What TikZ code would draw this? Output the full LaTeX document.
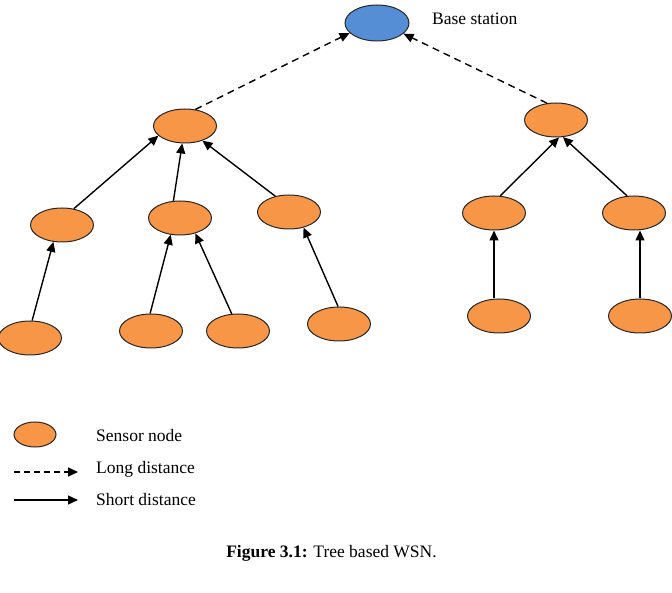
\documentclass[tikz,border=0pt]{standalone}
\usepackage{fontspec}
\setmainfont{Liberation Serif}
\usetikzlibrary{shapes.geometric,arrows.meta}

\definecolor{sensororange}{HTML}{F79646}
\definecolor{baseblue}{HTML}{558ED5}

\tikzset{
  sensor/.style={ellipse, draw=black!85, line width=1pt, fill=sensororange,
    minimum width=63pt, minimum height=34pt, inner sep=0pt},
  basenode/.style={sensor, fill=baseblue, minimum width=64pt, minimum height=36pt},
  legendnode/.style={sensor, minimum width=42pt, minimum height=25pt},
  shortlink/.style={line width=1.4pt, -{Triangle[length=10pt,width=9pt]}},
  longlink/.style={line width=1.4pt, dash pattern=on 7pt off 5pt,
    -{Triangle[length=10pt,width=9pt]}},
  label/.style={anchor=base west, inner sep=0pt,
    font=\fontsize{17.5}{20}\selectfont}
}

\begin{document}
\begin{tikzpicture}[x=1pt, y=-1pt]
  \useasboundingbox (0,0) rectangle (672,593);

  % base station
  \node[basenode] (base) at (377,23) {};
  \node[label] (basetxt) at (432,25) {Base station};

  % cluster heads
  \node[sensor] (l1a) at (185,126) {};
  \node[sensor] (l1b) at (556,120) {};

  % intermediate nodes
  \node[sensor] (l2a) at (62,225) {};
  \node[sensor] (l2b) at (180,218) {};
  \node[sensor] (l2c) at (289,212) {};
  \node[sensor] (l2d) at (494,213) {};
  \node[sensor] (l2e) at (634,213) {};

  % leaf nodes
  \node[sensor] (l3a) at (30,338) {};
  \node[sensor] (l3b) at (151,331) {};
  \node[sensor] (l3c) at (238,331) {};
  \node[sensor] (l3d) at (339,324) {};
  \node[sensor] (l3e) at (499,316) {};
  \node[sensor] (l3f) at (640,316) {};

  % long-distance links to the base station
  \draw[longlink] (l1a.58) -- (base.200);
  \draw[longlink] (l1b.118) -- (base.-22);

  % short-distance links, left tree
  \draw[shortlink] (l2a.54) -- (l1a.200);
  \draw[shortlink] (l2b.111) -- (l1a.-99);
  \draw[shortlink] (l2c.131) -- (l1a.-40);
  \draw[shortlink] (l3a.83) -- (l2a.-117);
  \draw[shortlink] (l3b.93) -- (l2b.-119);
  \draw[shortlink] (l3c.110) -- (l2b.-45);
  \draw[shortlink] (l3d.93) -- (l2c.-47);

  % short-distance links, right tree
  \draw[shortlink] (l2d.70) -- (l1b.-80);
  \draw[shortlink] (l2e.112) -- (l1b.-68);
  \draw[shortlink] (l2d.south |- l3e.north) -- (l2d.south);
  \draw[shortlink] (l3f.north) -- (l3f.north |- l2e.south);

  % legend
  \node[legendnode] (lgnode) at (35,434.5) {};
  \node[label] (lgnodetxt) at (96,442) {Sensor node};
  \coordinate (lglongA) at (14,472);
  \coordinate (lglongB) at (78,472);
  \draw[longlink, dash pattern=on 6pt off 4pt] (lglongA) -- (lglongB);
  \node[label] (lglongtxt) at (96,473) {Long distance};
  \coordinate (lgshortA) at (14,500);
  \coordinate (lgshortB) at (78,500);
  \draw[shortlink] (lgshortA) -- (lgshortB);
  \node[label] (lgshorttxt) at (96,505) {Short distance};

  % caption
  \node[label, anchor=base] (caption) at (331.5,557)
    {\textbf{Figure 3.1:} Tree based WSN.};
\end{tikzpicture}
\end{document}
